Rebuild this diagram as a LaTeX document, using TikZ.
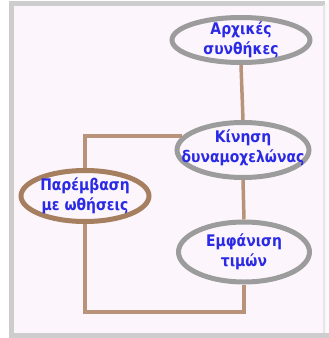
\documentclass[tikz,border=0pt]{standalone}
\usepackage{fontspec}
\usepackage{tikz}
\usetikzlibrary{positioning, shapes.geometric}
\newfontfamily\blobfont{DejaVu Sans}[FakeStretch=0.87]
\definecolor{ringGray}{HTML}{9C9C9C}
\definecolor{ringBrown}{HTML}{A67E60}
\definecolor{linkBrown}{HTML}{B8937A}
\definecolor{textBlue}{HTML}{2A2AE6}
\definecolor{paperPink}{HTML}{FCF6FC}
\definecolor{frameGray}{HTML}{CDCDCD}
\tikzset{
  blob/.style={ellipse, draw=ringGray, line width=5pt, fill=paperPink,
    inner sep=0pt},
  blobtext/.style={align=center, text=textBlue,
    font=\blobfont\bfseries\fontsize{16}{20}\selectfont},
  link/.style={draw=linkBrown, line width=3.5pt},
}

\begin{document}
\begin{tikzpicture}[x=1pt, y=-1pt]
    \useasboundingbox (0,0) rectangle (329,338);
    % ---------------- frame ----------------
    \fill[paperPink] (11,3) rectangle (327,335);
    \draw[frameGray, line width=5pt] (325,3) -- (11,3) -- (11,335) -- (329,335);
    \draw[frameGray!50, line width=1.5pt] (324,5) -- (324,333);
    % ---------------- ellipses ----------------
    \node[blob, minimum width=138pt, minimum height=45pt,
          label={[blobtext]center:Αρχικές\\συνθήκες}] (init) at (241,40) {};
    \node[blob, minimum width=132pt, minimum height=55pt,
          label={[blobtext, yshift=2pt]center:Κίνηση\\δυναμοχελώνας}] (motion) at (243,150) {};
    \node[blob, draw=ringBrown, minimum width=128pt, minimum height=51pt,
          label={[blobtext]center:Παρέμβαση\\με ωθήσεις}] (push) at (85,196) {};
    \node[blob, minimum width=131pt, minimum height=60pt,
          label={[blobtext]center:Εμφάνιση\\τιμών}] (display) at (244,252) {};
    % ---------------- connectors ----------------
    \coordinate (base) at (160,312);
    \draw[link] (init.south) -- (motion.north);
    \draw[link] (motion.167) -| (push.north);
    \draw[link] (motion.south) -- (display.north);
    \draw[link] (push.south) |- (base) -| (display.south);
\end{tikzpicture}
\end{document}
